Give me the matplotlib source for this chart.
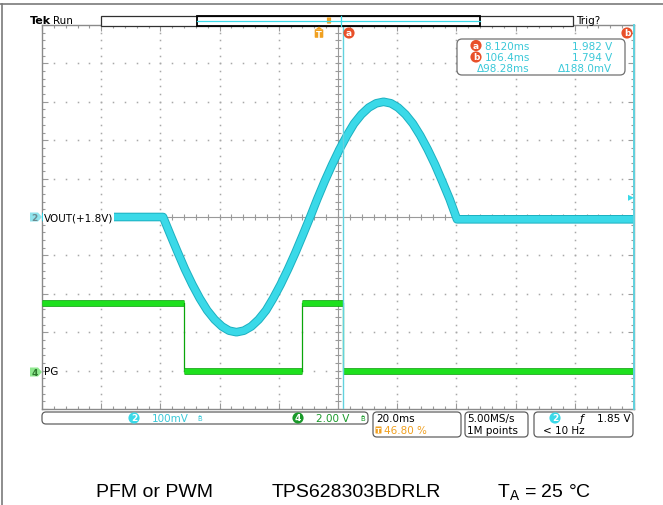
import matplotlib
matplotlib.use("Agg")
import matplotlib.pyplot as plt
from matplotlib import font_manager
from matplotlib.patches import Rectangle, FancyBboxPatch, Polygon
from matplotlib.transforms import Affine2D
import numpy as np

W, H = 663, 506

# horizontal: 20 ms/div, trigger at 46.8 % of record
ms_per_div = 20.0
t_left, t_right = -93.6, 106.4

# CH2 VOUT: 100 mV/div, offset +1.8 V
vout_t = [-93.6, -52.7, -50.2, -47.7, -45.3, -42.8, -40.3, -37.8, -35.3, -32.8, -30.4,
          -27.9, -25.4, -22.9, -20.4, -17.9, -15.5, -13.0, -10.5, -8.0, -5.5,
          -3.0, -0.6, 1.9, 4.4, 6.9, 9.4, 11.8, 14.3, 16.8, 19.3,
          21.8, 24.3, 26.7, 29.2, 31.7, 34.2, 36.7, 39.2, 41.6, 44.1, 46.6, 106.4]
vout_v = [1.800, 1.800, 1.753, 1.707, 1.664, 1.624, 1.588, 1.557, 1.533, 1.515, 1.504,
          1.500, 1.504, 1.515, 1.533, 1.557, 1.588, 1.624, 1.664, 1.707, 1.753,
          1.800, 1.847, 1.893, 1.936, 1.976, 2.012, 2.043, 2.067, 2.085, 2.096,
          2.100, 2.096, 2.085, 2.067, 2.043, 2.012, 1.976, 1.936, 1.893, 1.847, 1.794, 1.794]
ch2_scale, ch2_offset = 0.1, 1.8

# CH4 PG: 2 V/div, ground marker 4 div below centre
pg_t = [-93.6, -45.6, -45.6, -5.7, -5.7, 8.1, 8.1, 106.4]
pg_v = [3.5, 3.5, 0.0, 0.0, 3.5, 3.5, 0.0, 0.0]
ch4_scale, ch4_pos = 2.0, -4.0

# cursors
cur_a, cur_b = 8.12, 106.4
trig_level = 1.85

readout = [("a", "8.120ms", "1.982 V"), ("b", "106.4ms", "1.794 V"), ("", "\u039498.28ms", "\u0394188.0mV")]

names = {f.name for f in font_manager.fontManager.ttflist}
scope_font = "Liberation Sans Narrow" if "Liberation Sans Narrow" in names else "DejaVu Sans"
cap_font = "Liberation Sans" if "Liberation Sans" in names else "DejaVu Sans"

CYAN = "#3ad9e8"
CYAN_D = "#1cb0c0"
CYAN_T = "#3ac8d8"
GREEN = "#1ee01e"
GREEN_D = "#0aa60a"
ORANGE = "#f0a020"
RED = "#e8502a"
GRID = "#a8a8a8"

fig = plt.figure(figsize=(W / 100, H / 100), dpi=100)
px = Affine2D().scale(1 / W, -1 / H).translate(0, 1) + fig.transFigure

# plot area 42..634 x 26..410 px
ax = fig.add_axes([42 / W, 1 - 410 / H, 592 / W, 384 / H])
ax.set_xlim(t_left, t_right)
ax.set_ylim(-5, 5)

def div2(v):
    return [(x - ch2_offset) / ch2_scale for x in v]

def div4(v):
    return [ch4_pos + x / ch4_scale for x in v]

# graticule
xmaj = np.arange(t_left, t_right + 0.01, ms_per_div)
xmin = np.arange(t_left, t_right + 0.01, ms_per_div / 5)
ymaj = np.arange(-5, 5.01, 1)
ymin = np.arange(-5, 5.01, 0.2)
xc = (t_left + t_right) / 2
for x in xmaj[1:-1]:
    if abs(x - xc) > 1e-6:
        ax.plot([x] * len(ymin), ymin, ls="none", marker="s", ms=1.1, color=GRID, mew=0)
for y in ymaj[1:-1]:
    if abs(y) > 1e-6:
        ax.plot(xmin, [y] * len(xmin), ls="none", marker="s", ms=1.1, color=GRID, mew=0)
ax.axhline(0, color="#9a9a9a", lw=0.8)
ax.axvline(xc, color="#9a9a9a", lw=0.8)
ax.plot(xmin, np.zeros_like(xmin), ls="none", marker="|", ms=4, color="#9a9a9a", mew=0.8)
ax.plot(np.full_like(ymin, xc), ymin, ls="none", marker="_", ms=4, color="#9a9a9a", mew=0.8)

ax.set_xticks(xmaj)
ax.set_xticks(xmin, minor=True)
ax.set_yticks(ymaj)
ax.set_yticks(ymin, minor=True)
ax.tick_params(which="both", direction="in", top=True, right=True, labelbottom=False,
               labelleft=False, color="#9a9a9a", width=0.8)
ax.tick_params(which="major", length=4)
ax.tick_params(which="minor", length=2.5)
for s in ax.spines.values():
    s.set_color("#8a8a8a")
    s.set_linewidth(1)

# PG trace: thick levels, thin edges
pgd = div4(pg_v)
for i in range(len(pg_t) - 1):
    if pg_t[i] == pg_t[i + 1]:
        ax.plot(pg_t[i:i + 2], pgd[i:i + 2], color=GREEN_D, lw=0.9, zorder=3)
    else:
        ax.plot(pg_t[i:i + 2], pgd[i:i + 2], color=GREEN_D, lw=4.8, solid_capstyle="butt", zorder=3)
        ax.plot(pg_t[i:i + 2], pgd[i:i + 2], color=GREEN, lw=3.6, solid_capstyle="butt", zorder=3)

# VOUT trace (noisy band)
vd = div2(vout_v)
ax.plot(vout_t, vd, color=CYAN_D, lw=6.2, solid_joinstyle="round", zorder=4)
ax.plot(vout_t, vd, color=CYAN, lw=4.8, solid_joinstyle="round", zorder=4)

# cursors
ax.axvline(cur_a, color="#62d2de", lw=1.0, zorder=5)
ax.axvline(cur_b, color="#62d2de", lw=1.4, zorder=5, clip_on=False)

# channel labels inside graticule
ax.text(t_left + 0.6, 0, "VOUT(+1.8V)", fontsize=7.5, family=scope_font, va="center", ha="left",
        zorder=6, bbox=dict(boxstyle="square,pad=0.1", fc="white", ec="none"))
ax.text(t_left + 0.6, ch4_pos, "PG", fontsize=7.5, family=scope_font, va="center", ha="left", zorder=6)

# trigger level marker on right edge
ty = (trig_level - ch2_offset) / ch2_scale * 38.4
fig.add_artist(Polygon([[634, 218 - ty], [628, 218 - ty - 3], [628, 218 - ty + 3]], closed=True,
                       fc=CYAN, ec="none", transform=px))

# channel ground/offset markers on left
for yc, fc, lab, tc in [(218, "#8fe3ec", "2", "#6a8a90"), (373, "#8ee88e", "4", "#2f7a2f")]:
    fig.add_artist(Polygon([[30, yc - 4.5], [38, yc - 4.5], [42, yc], [38, yc + 4.5], [30, yc + 4.5]],
                           closed=True, fc=fc, ec="none", transform=px))
    fig.text(34.5, yc + 0.5, lab, transform=px, fontsize=6.5, family=scope_font, color=tc,
             ha="center", va="center", weight="bold")

# frame lines of the page
fig.add_artist(plt.Line2D([0, W], [5, 5], color="#7a7a7a", lw=1.2, transform=px))
fig.add_artist(plt.Line2D([2, 2], [5, H], color="#7a7a7a", lw=1.2, transform=px))

# top status line
fig.text(30, 21, "Tek", transform=px, fontsize=8, weight="bold", family=scope_font, va="center")
fig.text(53, 21, "Run", transform=px, fontsize=7.5, family=scope_font, va="center")
fig.text(576, 21, "Trig?", transform=px, fontsize=7.5, family=scope_font, va="center")
fig.add_artist(Rectangle((101, 17), 472, 9.5, fc="white", ec="#303030", lw=0.9, transform=px))
fig.add_artist(plt.Line2D([197, 480], [22, 22], color=CYAN, lw=0.9, transform=px))
fig.add_artist(Rectangle((197, 17), 283, 9.5, fc="none", ec="black", lw=1.3, transform=px))
fig.add_artist(plt.Line2D([341, 341], [17, 26.5], color=CYAN, lw=0.9, transform=px))
fig.add_artist(FancyBboxPatch((327.5, 19), 3, 5, boxstyle="round,pad=0.6", fc=ORANGE, ec="none", transform=px))

# trigger T marker and cursor labels
fig.add_artist(FancyBboxPatch((315.5, 31), 7, 7, boxstyle="round,pad=0.8", fc=ORANGE, ec="none", transform=px))
fig.add_artist(Polygon([[316, 30], [322, 30], [319, 27.5]], closed=True, fc=ORANGE, ec="none", transform=px))
fig.text(319, 35, "T", transform=px, fontsize=6, color="white", weight="bold", ha="center", va="center")


def badge(x, y, s, fc, tc="white", fs=6.5):
    fig.text(x, y, s, transform=px, fontsize=fs, color=tc, weight="bold", ha="center", va="center",
             family=scope_font, bbox=dict(boxstyle="circle,pad=0.12", fc=fc, ec="none"))


badge(349, 34, "a", RED)
badge(627, 34, "b", RED)

# cursor readout box
fig.add_artist(FancyBboxPatch((457, 40), 168, 36, boxstyle="round,pad=0,rounding_size=5",
                              fc="white", ec="#707070", lw=0.9, transform=px))
for i, (lab, tval, vval) in enumerate(readout):
    yy = 46.5 + i * 11.5
    if lab:
        badge(476, yy, lab, RED)
    fig.text(530, yy, tval, transform=px, fontsize=7.5, color=CYAN_T,
             family=scope_font, ha="right", va="center")
    fig.text(612, yy, vval, transform=px, fontsize=7.5, color=CYAN_T, family=scope_font,
             ha="right", va="center")

# bottom status boxes
def sbox(x0, x1, y0, y1):
    fig.add_artist(FancyBboxPatch((x0, y0), x1 - x0, y1 - y0, boxstyle="round,pad=0,rounding_size=4",
                                  fc="white", ec="#606060", lw=0.9, transform=px))


sbox(42, 368, 413, 425)
sbox(373, 461, 413, 438)
sbox(465, 528, 413, 438)
sbox(534, 633, 413, 438)
badge(134, 419, "2", CYAN)
fig.text(152, 419, "100mV", transform=px, fontsize=7.5, color=CYAN_T, family=scope_font, va="center")
fig.text(197, 419, "B\u0303", transform=px, fontsize=5, color=CYAN_T, family=scope_font, va="center")
badge(298, 419, "4", "#1a9a2a")
fig.text(316, 419, "2.00 V", transform=px, fontsize=7.5, color="#1a9a2a", family=scope_font, va="center")
fig.text(360, 419, "B\u0303", transform=px, fontsize=5, color="#1a9a2a", family=scope_font, va="center")
fig.text(376, 419, "20.0ms", transform=px, fontsize=7.5, family=scope_font, va="center")
fig.add_artist(FancyBboxPatch((376, 428), 5, 6, boxstyle="round,pad=0.5", fc=ORANGE, ec="none", transform=px))
fig.text(378.5, 431.2, "T", transform=px, fontsize=5, color="white", weight="bold", ha="center", va="center")
fig.text(384, 431, "46.80 %", transform=px, fontsize=7.5, color=ORANGE, family=scope_font, va="center")
fig.text(467, 419, "5.00MS/s", transform=px, fontsize=7.5, family=scope_font, va="center")
fig.text(467, 431, "1M points", transform=px, fontsize=7.5, family=scope_font, va="center")
badge(555, 419, "2", CYAN)
fig.text(580, 419, "\u0192", transform=px, fontsize=8, family="DejaVu Sans", va="center", style="italic")
fig.text(631, 419, "1.85 V", transform=px, fontsize=7.5, family=scope_font, va="center", ha="right")
fig.text(543, 431, "< 10 Hz", transform=px, fontsize=7.5, family=scope_font, va="center")

# caption
fig.text(155, 493, "PFM or PWM", transform=px, fontsize=14, family=cap_font, ha="center", va="center")
fig.text(356, 493, "TPS628303BDRLR", transform=px, fontsize=14, family=cap_font, ha="center", va="center")
fig.text(544, 493, r"T$_\mathregular{A}$ = 25 °C", transform=px, fontsize=14, family=cap_font,
         ha="center", va="center")

fig.savefig("out.png", dpi=100)
